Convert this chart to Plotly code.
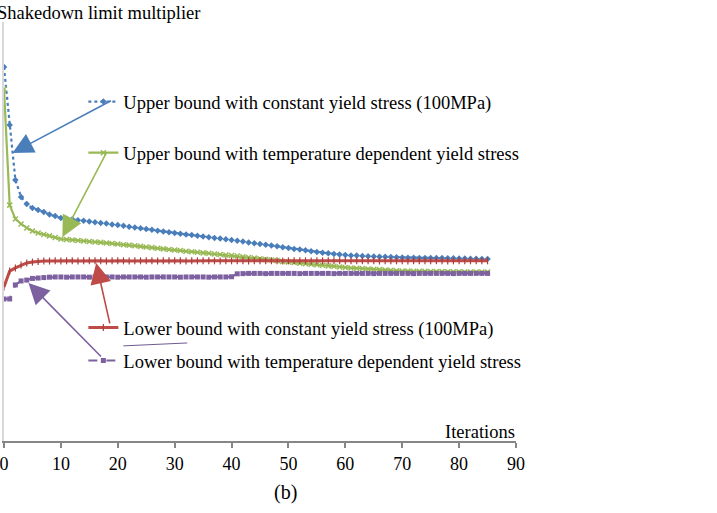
import plotly.graph_objects as go

iterations = list(range(0, 86))

upper_const = [1.785,1.508,1.246,1.165,1.131,1.112,1.103,1.093,1.081,1.074,1.064,
1.061,1.058,1.054,1.051,1.048,1.044,1.041,1.038,1.034,1.031,
1.027,1.023,1.019,1.016,1.012,1.008,1.004,1.000,0.997,0.993,
0.989,0.986,0.983,0.980,0.976,0.973,0.969,0.966,0.963,0.959,
0.956,0.952,0.948,0.944,0.940,0.937,0.933,0.929,0.925,0.921,
0.917,0.914,0.910,0.906,0.902,
0.899,0.896,0.893,0.890,0.888,
0.886,0.885,0.883,0.882,0.881,
0.880,0.879,0.878,0.877,0.876,
0.875,0.875,0.874,0.874,0.874,0.873,0.873,0.872,0.872,0.871,0.871,0.870,0.870,0.869,0.869]

upper_temp = [1.680,1.126,1.060,1.036,1.017,1.002,0.993,0.986,0.979,0.971,0.964,
0.962,0.959,0.957,0.955,0.952,0.950,0.948,0.945,0.943,0.940,
0.937,0.935,0.932,0.929,0.926,0.923,0.920,0.917,0.914,0.912,
0.909,0.906,0.903,0.901,0.898,0.896,0.893,0.890,0.888,0.885,
0.883,0.879,0.876,0.873,0.870,0.867,0.864,0.861,0.857,0.854,
0.852,0.849,0.846,0.844,0.841,0.839,0.836,0.834,0.831,0.828,
0.826,0.825,0.823,0.821,0.820,0.818,0.816,0.815,0.813,0.811,
0.811,0.810,0.810,0.810,0.809,0.809,0.809,0.808,0.808,0.808,0.807,0.807,0.807,0.807,0.807]

lower_const = [0.735,0.811,0.826,0.840,0.850,0.854,0.857,
0.859,0.859,0.860,0.859,0.860,0.860,0.859,0.860,0.860,0.860,
0.860,0.859,0.860,0.860,0.860,0.859,0.860,0.860,0.860,0.860,
0.859,0.860,0.860,0.860,0.860,0.859,0.860,0.860,0.860,0.860,
0.860,0.859,0.860,0.860,0.860,0.860,0.859,0.860,0.860,0.860,
0.860,0.860,0.859,0.860,0.860,0.860,0.860,0.859,0.860,0.860,
0.860,0.860,0.860,0.859,0.860,0.860,0.860,0.860,0.860,0.859,
0.860,0.860,0.860,0.860,0.859,0.860,0.860,0.860,0.860,0.860,
0.860,0.859,0.860,0.860,0.860,0.860,0.860,0.860,0.860]

lower_temp = [0.678,0.678,0.745,0.764,0.768,0.776,0.778,0.780,
0.782,0.783,0.783,0.782,0.783,0.783,0.783,0.782,0.783,0.783,
0.783,0.783,0.782,0.783,0.783,0.783,0.783,0.782,0.783,0.783,
0.783,0.783,0.783,0.782,0.783,0.783,0.783,0.783,0.782,0.783,
0.783,0.783,0.784,
0.798,0.799,0.800,0.800,0.800,0.799,0.800,0.800,0.800,0.800,
0.800,0.799,0.800,0.800,0.800,0.800,0.800,0.799,0.800,0.800,
0.800,0.800,0.800,0.800,0.799,0.800,0.800,0.800,0.800,0.800,
0.800,0.799,0.800,0.800,0.800,0.800,0.800,0.800,0.799,0.800,
0.800,0.800,0.800,0.800,0.800]

names = ["Upper bound with constant yield stress (100MPa)",
         "Upper bound with temperature dependent yield stress",
         "Lower bound with constant yield stress (100MPa)",
         "Lower bound with temperature dependent yield stress"]
x_ticks = [0, 10, 20, 30, 40, 50, 60, 70, 80, 90]

BLUE = "#4A7EBB"
GREEN = "#98B954"
RED = "#BE4B48"
PURPLE = "#7D60A0"
FONT = "Liberation Serif"

fig = go.Figure()
fig.add_trace(go.Scatter(x=iterations, y=upper_const, name=names[0], mode="lines+markers",
                         line=dict(color=BLUE, width=2.2, dash="dot"),
                         marker=dict(symbol="diamond", size=5, color=BLUE), legend="legend"))
fig.add_trace(go.Scatter(x=iterations, y=upper_temp, name=names[1], mode="lines+markers",
                         line=dict(color=GREEN, width=2.2),
                         marker=dict(symbol="x-thin", size=5, color=GREEN, line=dict(color=GREEN, width=1.5)),
                         legend="legend2"))
fig.add_trace(go.Scatter(x=iterations, y=lower_const, name=names[2], mode="lines+markers",
                         line=dict(color=RED, width=3),
                         marker=dict(symbol="line-ns", size=5, color=RED, line=dict(color="#A8403D", width=1.2)),
                         legend="legend3"))
fig.add_trace(go.Scatter(x=iterations, y=lower_temp, name=names[3], mode="lines+markers",
                         line=dict(color=PURPLE, width=2.2, dash="dash"),
                         marker=dict(symbol="square", size=5, color=PURPLE), legend="legend4"))

# Arrows pointing from legend keys to the curves
arrows = [(1.49, 1.375, 100, -53, BLUE), (10.26, 0.974, 45, -86, GREEN),
          (16.2, 0.850, 14, 62, RED), (4.3, 0.754, 74, 75, PURPLE)]
for ax_x, ax_y, dx, dy, col in arrows:
    fig.add_annotation(x=ax_x, y=ax_y, xref="x", yref="y", ax=dx, ay=dy, text="",
                       showarrow=True, arrowhead=2, arrowsize=2.6, arrowwidth=1.6, arrowcolor=col)

fig.add_shape(type="line", xref="paper", yref="paper", x0=0.233, y0=0.227, x1=0.358, y1=0.234,
              line=dict(color="#6f5a8f", width=1))

fig.add_annotation(text="Shakedown limit multiplier", xref="paper", yref="paper",
                   x=-0.0185, y=1.0215, xanchor="left", yanchor="middle", showarrow=False,
                   font=dict(family=FONT, size=18.5, color="black"))
fig.add_annotation(text="Iterations", xref="paper", yref="paper",
                   x=1.002, y=0.0215, xanchor="right", yanchor="middle", showarrow=False,
                   font=dict(family=FONT, size=18.5, color="black"))
fig.add_annotation(text="(b)", xref="paper", yref="paper",
                   x=0.549, y=-0.122, xanchor="center", yanchor="middle", showarrow=False,
                   font=dict(family=FONT, size=20, color="black"))

leg_common = dict(xanchor="left", yanchor="middle", bgcolor="rgba(0,0,0,0)", borderwidth=0,
                  font=dict(family=FONT, size=18.5, color="black"), itemwidth=30)
fig.update_layout(
    width=717, height=513,
    margin=dict(l=3.5, r=200.5, t=22, b=72, autoexpand=False),
    showlegend=True,
    paper_bgcolor="white", plot_bgcolor="white",
    legend=dict(x=0.155, y=0.809, **leg_common),
    legend2=dict(x=0.155, y=0.687, **leg_common),
    legend3=dict(x=0.155, y=0.270, **leg_common),
    legend4=dict(x=0.155, y=0.191, **leg_common),
    xaxis=dict(range=[0, 90], tickvals=x_ticks, ticktext=[str(t) for t in x_ticks],
               showline=True, linecolor="#868686", linewidth=1.5, ticks="outside",
               ticklen=5, tickwidth=1.5, tickcolor="#868686", showgrid=False, zeroline=False,
               tickfont=dict(family=FONT, size=18, color="black"), ticklabelstandoff=1,
               ticklabeloverflow="allow", automargin=False),
    yaxis=dict(range=[0, 2.0], showline=True, linecolor="#d9d9d9", linewidth=1.5,
               showticklabels=False, ticks="", showgrid=False, zeroline=False, automargin=False),
)

fig.write_html("out.html", config={"displayModeBar": False},
               post_script="document.body.style.margin='0';document.body.style.padding='0';")
